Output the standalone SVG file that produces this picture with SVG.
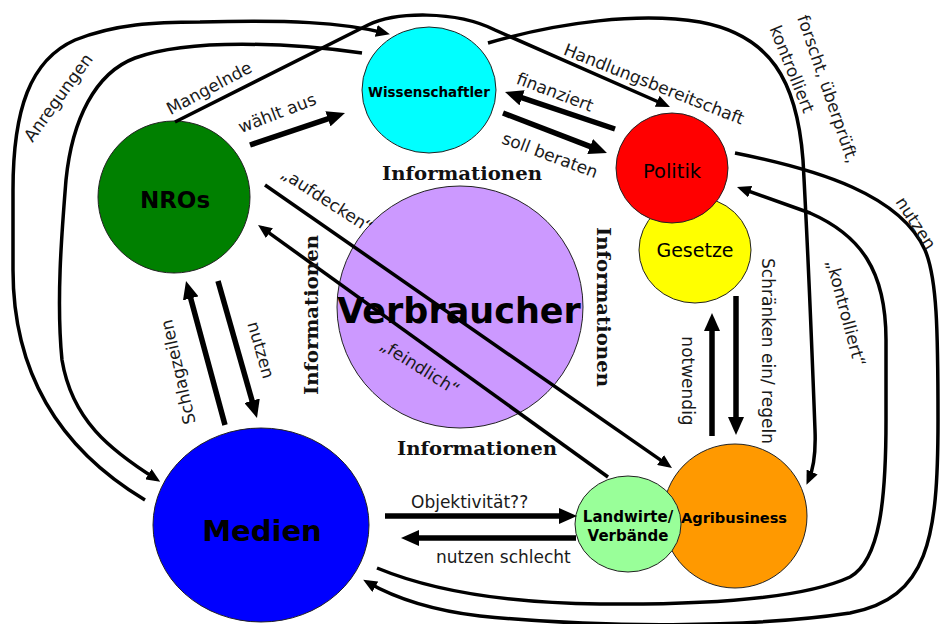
<svg xmlns="http://www.w3.org/2000/svg" width="940" height="624" viewBox="0 0 940 624">
<defs>
<style>
.node{stroke:#222;stroke-width:1}
.nt{font-family:"DejaVu Sans","Liberation Sans",sans-serif;fill:#000;text-anchor:middle}
.b{font-weight:bold}
.lbl{font-family:"DejaVu Sans","Liberation Sans",sans-serif;font-size:17px;fill:#1a1a1a;text-anchor:middle}
.st{text-anchor:start}
.info{font-family:"DejaVu Serif","Liberation Serif",serif;font-weight:bold;font-size:19px;fill:#111;text-anchor:middle}
.thick{fill:none;stroke:#000;stroke-width:5.5;marker-end:url(#big)}
.thin{fill:none;stroke:#000;stroke-width:3.5;marker-end:url(#small)}
</style>
<marker id="big" viewBox="0 0 18 16" refX="10" refY="8" markerWidth="18" markerHeight="16" markerUnits="userSpaceOnUse" orient="auto">
<path d="M0,0 L18,8 L0,16 z" fill="#000"/>
</marker>
<marker id="small" viewBox="0 0 14 12" refX="9" refY="6" markerWidth="14" markerHeight="12" markerUnits="userSpaceOnUse" orient="auto">
<path d="M0,0 L14,6 L0,12 z" fill="#000"/>
</marker>
</defs>
<rect width="940" height="624" fill="#fff"/>

<g id="verbraucher">
<ellipse class="node" cx="460" cy="307" rx="123" ry="121" fill="#CC99FF"/>
<text class="nt b" x="459" y="323" font-size="35">Verbraucher</text>
</g>
<g id="nros">
<circle class="node" cx="174" cy="197" r="76" fill="#008000"/>
<text class="nt b" x="175" y="208" font-size="23">NROs</text>
</g>
<g id="wissenschaftler">
<ellipse class="node" cx="429" cy="90" rx="67" ry="63" fill="#00FFFF"/>
<text class="nt b" x="429" y="97" font-size="13.5">Wissenschaftler</text>
</g>
<g id="gesetze">
<ellipse class="node" cx="695" cy="250" rx="56" ry="53" fill="#FFFF00"/>
<text class="nt" x="695" y="257" font-size="19">Gesetze</text>
</g>
<g id="politik">
<ellipse class="node" cx="672" cy="168" rx="56" ry="55" fill="#FF0000"/>
<text class="nt" x="672" y="178" font-size="19.5">Politik</text>
</g>
<g id="medien">
<ellipse class="node" cx="261" cy="525" rx="108" ry="97" fill="#0000FF"/>
<text class="nt b" x="262" y="541" font-size="29">Medien</text>
</g>
<g id="agribusiness">
<circle class="node" cx="735" cy="516" r="72" fill="#FF9900"/>
<text class="nt b" x="734" y="523" font-size="14.6">Agribusiness</text>
</g>
<g id="landwirte">
<ellipse class="node" cx="628" cy="524" rx="53" ry="48" fill="#99FF99"/>
<text class="nt b" x="628" y="522" font-size="15">Landwirte/</text>
<text class="nt b" x="628" y="541" font-size="15">Verbände</text>
</g>

<g id="connectors">
<path class="thick" d="M250,145 L337.4,115.6"/>
<path class="thick" d="M615,129 L512.6,94.6"/>
<path class="thick" d="M503,113 L599.5,150.1"/>
<path class="thick" d="M225,425 L188.1,288.7"/>
<path class="thick" d="M218,281 L254.8,410.3"/>
<path class="thick" d="M712,436 L712,321"/>
<path class="thick" d="M736,296 L736,427"/>
<path class="thick" d="M385,516 L569,516"/>
<path class="thick" d="M576,538 L409,538"/>
<path class="thin" d="M265,185 L667.9,465.1"/>
<path class="thin" d="M608,477 L262.1,227.9"/>
<path class="thin" d="M145,500 C70,455 13,385 13,270 L13,190 C13,110 30,60 75,40 C115,24 155,22 200,22 C290,20 340,22 385,33"/>
<path class="thin" d="M362,53 C290,43 190,38 135,58 C95,73 72,120 66,180 C62,230 56,300 62,360 C72,420 110,450 156,479"/>
<path class="thin" d="M175,122 L368,25 C395,12 455,10 495,30 L665.4,105"/>
<path class="thin" d="M488,43 C560,22 640,12 700,22 C770,35 797,80 803,160 C808,250 812,350 815,430 C816,455 813,470 808.5,480.2"/>
<path class="thin" d="M377,568 C430,590 500,603 600,604 C700,605 800,600 850,577 C880,560 886,500 886,420 L886,340 C886,270 860,235 810,213 L741.7,188.7"/>
<path class="thin" d="M735,153 C820,170 900,195 925,250 C937,278 938,330 938,420 C938,540 928,598 850,613 C750,628 600,628 480,616 C430,610 395,598 367.5,582.2"/>
</g>

<g id="labels">
<text class="lbl" transform="translate(63,101) rotate(-54)" font-size="16.5">Anregungen</text>
<text class="lbl" transform="translate(209,88) rotate(-28)" y="6">Mangelnde</text>
<text class="lbl" transform="translate(277,113) rotate(-21)" y="6" font-size="16">wählt aus</text>
<text class="lbl" transform="translate(654,84) rotate(21.5)" y="6">Handlungsbereitschaft</text>
<text class="lbl" transform="translate(555,92) rotate(21)" y="6">finanziert</text>
<text class="lbl" transform="translate(550,155) rotate(20.6)" y="6">soll beraten</text>
<text class="lbl" transform="translate(828,89) rotate(71)" y="6">forscht, überprüft,</text>
<text class="lbl" transform="translate(792,69) rotate(68)" y="6">kontrolliert</text>
<text class="lbl" transform="translate(916,223) rotate(57)" y="6" font-size="16">nutzen</text>
<text class="lbl" transform="translate(846,313) rotate(75)" y="6">„kontrolliert“</text>
<text class="lbl" transform="translate(768,351) rotate(90)" y="6">Schränken ein/ regeln</text>
<text class="lbl" transform="translate(688,381) rotate(90)" y="6" font-size="16.5">notwendig</text>
<text class="lbl" transform="translate(178,372) rotate(-103)" y="6">Schlagzeilen</text>
<text class="lbl" transform="translate(261,350) rotate(74)" y="6">nutzen</text>
<text class="lbl" transform="translate(327,200) rotate(33)" y="6" font-size="16">„aufdecken“</text>
<text class="lbl" transform="translate(420,367) rotate(32)" y="6" font-size="16">„feindlich“</text>
<text class="lbl st" x="411" y="508" font-size="16">Objektivität??</text>
<text class="lbl st" x="436" y="563">nutzen schlecht</text>
<text class="info" x="462" y="180" textLength="160" lengthAdjust="spacingAndGlyphs">Informationen</text>
<text class="info" x="477" y="455" textLength="160" lengthAdjust="spacingAndGlyphs">Informationen</text>
<text class="info" transform="translate(318,315) rotate(-90)" textLength="160" lengthAdjust="spacingAndGlyphs">Informationen</text>
<text class="info" transform="translate(597,307) rotate(90)" textLength="160" lengthAdjust="spacingAndGlyphs">Informationen</text>
</g>
</svg>
